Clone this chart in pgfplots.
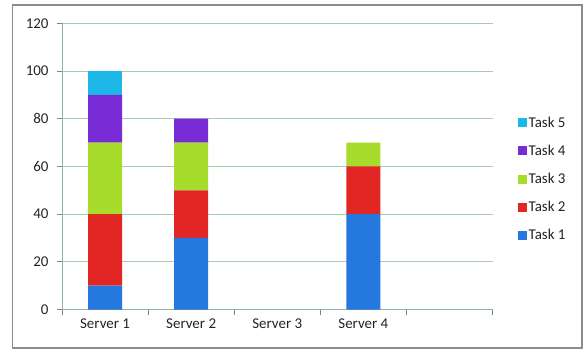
\documentclass[border=0pt]{standalone}
\usepackage{fontspec}
\setmainfont{Carlito}
\usepackage{pgfplots}
\pgfplotsset{compat=1.18}
\definecolor{tA}{RGB}{36,120,222}
\definecolor{tB}{RGB}{226,38,36}
\definecolor{tC}{RGB}{168,220,44}
\definecolor{tD}{RGB}{120,44,214}
\definecolor{tE}{RGB}{30,184,232}
\definecolor{gridc}{RGB}{170,205,175}
\definecolor{axc}{RGB}{140,175,175}
\definecolor{txt}{RGB}{35,35,35}
\pgfplotsset{sqleg/.style={legend image code/.code={\fill[##1] (0bp,-4.5bp) rectangle (9bp,4.5bp);}}}
\begin{document}
\begin{tikzpicture}[x=1bp,y=1bp]
\path[use as bounding box] (0,0) rectangle (584,351);
\draw[black!45, line width=1.3bp] (12.5,3) rectangle (582,346);
\begin{axis}[
  at={(62bp,41.5bp)}, anchor=south west,
  scale only axis, width=430.5bp, height=286.2bp,
  ybar stacked, bar width=34bp,
  xmin=-0.5, xmax=4.5, ymin=0, ymax=120,
  ytick={0,20,...,120},
  xtick={-0.5,0.5,...,4.5}, xticklabels={},
  extra x ticks={0,1,2,3},
  extra x tick labels={Server 1,Server 2,Server 3,Server 4},
  extra x tick style={major tick length=0pt, xticklabel style={yshift=-6bp}},
  axis x line*=bottom, axis y line*=left,
  axis line style={axc, line width=0.9bp},
  tick style={black!50, line width=0.8bp},
  tick align=outside, major tick length=5bp,
  ymajorgrids, grid style={gridc, line width=0.9bp},
  tick label style={font=\fontsize{15}{17}\selectfont, text=txt},
  /pgf/number format/assume math mode=true,
  yticklabel style={xshift=-5bp},
  legend style={at={(1.051,0.688)}, anchor=north west, draw=none, fill=none,
     font=\fontsize{15}{17}\selectfont, text=txt, row sep=12.3bp,
     cells={anchor=west}},
  reverse legend, sqleg,
]
\addplot[fill=tA, draw=none] coordinates {(0,10) (1,30) (2,0) (3,40)};
\addplot[fill=tB, draw=none] coordinates {(0,30) (1,20) (2,0) (3,20)};
\addplot[fill=tC, draw=none] coordinates {(0,30) (1,20) (2,0) (3,10)};
\addplot[fill=tD, draw=none] coordinates {(0,20) (1,10) (2,0) (3,0)};
\addplot[fill=tE, draw=none] coordinates {(0,10) (1,0) (2,0) (3,0)};
\legend{Task 1,Task 2,Task 3,Task 4,Task 5}
\end{axis}
\end{tikzpicture}
\end{document}
